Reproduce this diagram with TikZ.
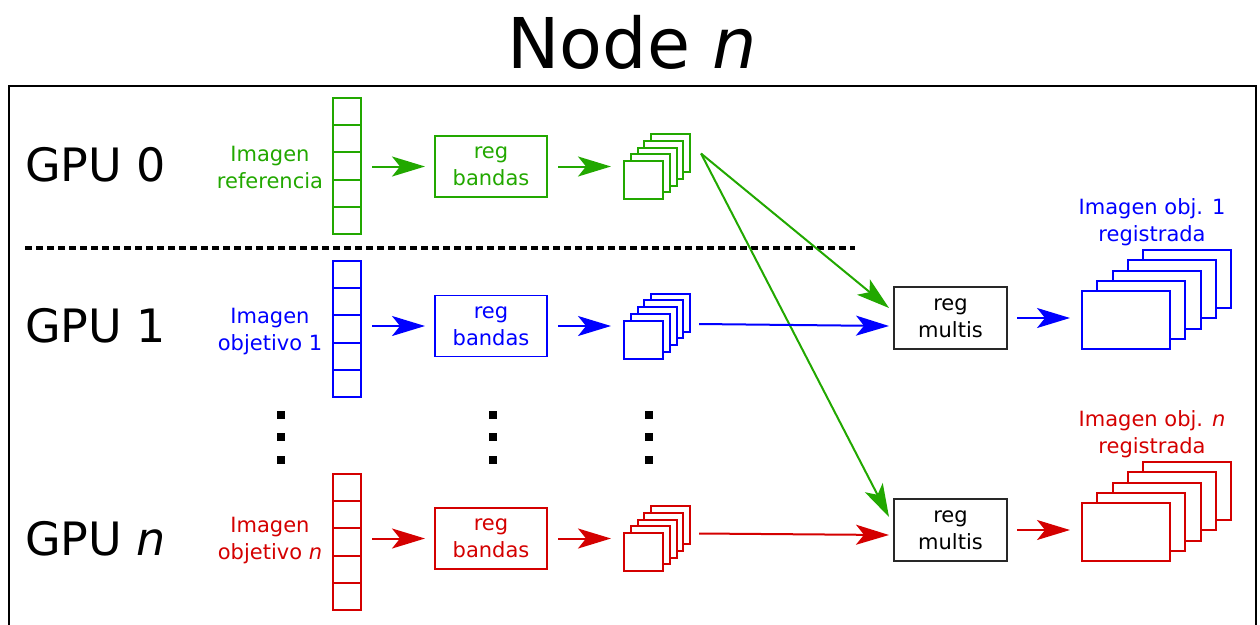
\documentclass[tikz,border=0pt]{standalone}
\usepackage{fontspec}
\setmainfont{DejaVu Sans}
\usetikzlibrary{arrows.meta,calc}
\definecolor{gpugreen}{RGB}{34,168,0}
\definecolor{gpublue}{RGB}{0,0,255}
\definecolor{gpured}{RGB}{212,0,0}
\definecolor{boxgray}{RGB}{40,40,40}

% stack of five band squares: name, colour, centre of the front square
\newcommand\bandstack[4]{%
  \foreach \k in {4,3,2,1}
    \node[sq, draw=#2] at (#3+6.75*\k, #4-6.75*\k) {};
  \node[sq, draw=#2] (#1f) at (#3,#4) {};
  \node[inner sep=0, outer sep=0, minimum width=66pt, minimum height=66pt] (#1) at (#3+13.5, #4-13.5) {};
}
% stack of five registered images: name, colour, centre of the front frame
\newcommand\imgstack[4]{%
  \foreach \k in {4,3,2,1}
    \node[bigsq, draw=#2] at (#3+15.25*\k, #4-10.25*\k) {};
  \node[bigsq, draw=#2] (#1f) at (#3,#4) {};
  \node[inner sep=0, outer sep=0, minimum width=149pt, minimum height=99pt] (#1) at (#3+30.5, #4-20.5) {};
}

\begin{document}
\begin{tikzpicture}[x=1pt,y=-1pt,
  lbl/.style={font=\fontsize{21}{27}\selectfont, align=center, inner sep=0},
  gpu/.style={font=\fontsize{46}{50}\selectfont, anchor=base west, inner sep=0},
  colbox/.style={draw, line width=2pt, minimum width=28pt, minimum height=136pt, inner sep=0, outer sep=0},
  regbox/.style={draw, line width=1.5pt, minimum width=112pt, minimum height=61pt, inner sep=0, outer sep=0,
                 font=\fontsize{21}{27}\selectfont, align=center},
  sq/.style={line width=2pt, fill=white, minimum width=39pt, minimum height=38pt, inner sep=0, outer sep=0},
  bigsq/.style={line width=2pt, fill=white, minimum width=88pt, minimum height=58pt, inner sep=0, outer sep=0},
  flow/.style={line width=2pt, -{Stealth[length=33pt, width=20pt, inset=8pt]}},
  dotmark/.style={fill=black, minimum size=8pt, inner sep=0, outer sep=0}
]
\useasboundingbox (0,0) rectangle (1260,624);

% title and node frame
\node[font=\fontsize{70}{80}\selectfont, anchor=base, inner sep=0] (title) at (632,68) {Node \textit{n}};
\draw[line width=2.5pt] (9,650) -- (9,86) -- (1256,86) -- (1256,650);

% GPU labels
\node[gpu] (gpu0) at (25,181) {GPU 0};
\node[gpu] (gpu1) at (25,342) {GPU 1};
\node[gpu] (gpun) at (25,555) {GPU \textit{n}};

% separator between GPU 0 and the others
\draw[line width=3.5pt, dash pattern=on 7pt off 4pt] (25,248) -- (855,248);

% input images
\node[lbl, text=gpugreen] (t0) at (270,167) {Imagen\\referencia};
\node[lbl, text=gpublue] (t1) at (270,332) {Imagen\\objetivo 1};
\node[lbl, text=gpured] (t2) at (270,541) {Imagen\\objetivo \textit{n}};

\node[colbox, draw=gpugreen] (c0) at (347,166) {};
\node[colbox, draw=gpublue] (c1) at (347,329) {};
\node[colbox, draw=gpured] (c2) at (347,542) {};
\foreach \c/\col in {c0/gpugreen, c1/gpublue, c2/gpured}
  \foreach \k in {1,2,3,4}
    \draw[line width=2pt, \col] ($(\c.north west)+(0,27.2*\k)$) -- ($(\c.north east)+(0,27.2*\k)$);

% band registration
\node[regbox, draw=gpugreen, text=gpugreen] (rb0) at (491,166.5) {reg\\bandas};
\node[regbox, draw=gpublue, text=gpublue] (rb1) at (491,326) {reg\\bandas};
\node[regbox, draw=gpured, text=gpured] (rb2) at (491,538.5) {reg\\bandas};

% registered bands
\bandstack{stk0}{gpugreen}{643.5}{180}
\bandstack{stk1}{gpublue}{643.5}{339.5}
\bandstack{stk2}{gpured}{643.5}{552}

% multi-image registration
\node[regbox, draw=boxgray, minimum width=113pt, minimum height=62pt] (rm1) at (950.5,318) {reg\\multis};
\node[regbox, draw=boxgray, minimum width=113pt, minimum height=62pt] (rm2) at (950.5,530) {reg\\multis};

% registered target images
\imgstack{bs1}{gpublue}{1126}{320}
\imgstack{bs2}{gpured}{1126}{532}
\node[lbl, text=gpublue] (o1) at (1152,222) {Imagen obj. 1\\registrada};
\node[lbl, text=gpured] (o2) at (1152,434.5) {Imagen obj. \textit{n}\\registrada};

% vertical ellipses
\foreach \x in {281,493,649}
  \foreach \y in {415,437,460}
    \node[dotmark] at (\x,\y) {};

% flow within each GPU
\foreach \c/\r/\s/\col in {c0/rb0/stk0/gpugreen, c1/rb1/stk1/gpublue, c2/rb2/stk2/gpured}{
  \draw[flow, \col, shorten <=11pt, shorten >=10pt] (\c.east |- \r.west) -- (\r.west);
  \draw[flow, \col, shorten <=11pt, shorten >=13pt] (\r.east) -- (\r.east -| \s.west);
}

% reference bands to every multi-image registration
\coordinate (g0) at ($(stk0.north east)+(11,20)$);
\draw[flow, gpugreen] (g0) -- ($(rm1.west)+(-5,-10)$);
\draw[flow, gpugreen] (g0) -- ($(rm2.west)+(-5,-13)$);

% target bands to their registration
\draw[flow, gpublue] ($(stk1.east)+(9,-2)$) -- ($(rm1.west)+(-5,8)$);
\draw[flow, gpured] ($(stk2.east)+(9,-5)$) -- ($(rm2.west)+(-5,5)$);

% registration outputs
\draw[flow, gpublue, shorten <=10pt, shorten >=12pt] (rm1.east) -- (rm1.east -| bs1.west);
\draw[flow, gpured, shorten <=10pt, shorten >=12pt] (rm2.east) -- (rm2.east -| bs2.west);
\end{tikzpicture}
\end{document}
